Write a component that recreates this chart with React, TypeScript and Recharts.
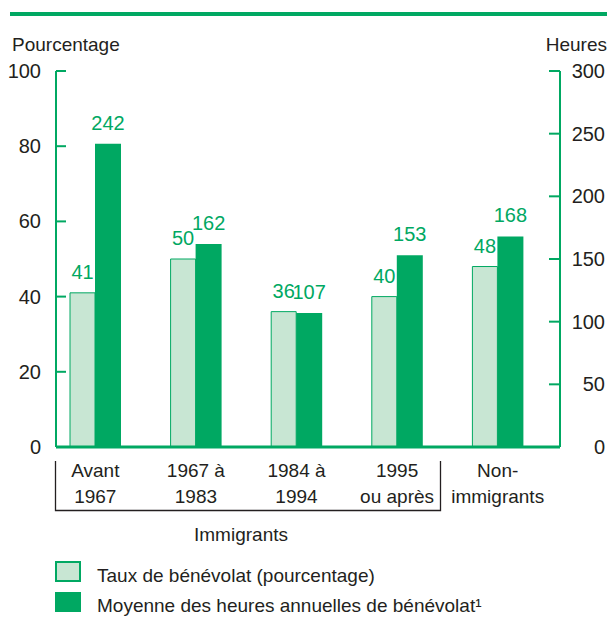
import { BarChart, Bar, XAxis, YAxis, LabelList } from "recharts";

// Bénévolat selon la période d'immigration : taux (axe gauche, %) et
// heures annuelles moyennes (axe droit).

const categories = ["Avant\n1967", "1967 à\n1983", "1984 à\n1994", "1995\nou après", "Non-\nimmigrants"];
const tauxBenevolat = [41, 50, 36, 40, 48];
const heuresAnnuelles = [242, 162, 107, 153, 168];
const pctTicks = [0, 20, 40, 60, 80, 100];
const heuresTicks = [0, 50, 100, 150, 200, 250, 300];
const seriesNames = ["Taux de bénévolat (pourcentage)", "Moyenne des heures annuelles de bénévolat¹"];

const GREEN = "#00a862";
const LIGHT = "#c8e6d3";
const INK = "#231f20";
const FONT = "'Liberation Sans', Arial, sans-serif";

const data = categories.map((cat, i) => ({
  cat,
  taux: tauxBenevolat[i],
  heures: heuresAnnuelles[i],
}));

function LeftTick({ x, y, payload }: any) {
  return (
    <g>
      <line x1={x} x2={x + 10} y1={y} y2={y} stroke={GREEN} strokeWidth={2} />
      <text x={x - 15} y={y} dy={7} textAnchor="end" fill={INK} fontSize={20} fontFamily={FONT}>
        {payload.value}
      </text>
    </g>
  );
}

function RightTick({ x, y, payload }: any) {
  return (
    <g>
      <line x1={x - 11} x2={x} y1={y} y2={y} stroke={GREEN} strokeWidth={2} />
      <text x={x + 45} y={y} dy={7} textAnchor="end" fill={INK} fontSize={20} fontFamily={FONT}>
        {payload.value}
      </text>
    </g>
  );
}

function CatTick({ x, y, payload }: any) {
  const lines = String(payload.value).split("\n");
  return (
    <text textAnchor="middle" fill={INK} fontSize={19} fontFamily={FONT}>
      {lines.map((l, i) => (
        <tspan key={i} x={x} y={y + 30 + i * 25.6}>{l}</tspan>
      ))}
    </text>
  );
}

export default function App() {
  return (
    <div style={{ position: "absolute", left: 0, top: 0, width: 610, height: 618, background: "#fff" }}>
      <BarChart
        width={610}
        height={618}
        data={data}
        margin={{ top: 71, right: 0, bottom: 111, left: 0 }}
        barGap={0}
      >
        <XAxis
          dataKey="cat"
          interval={0}
          height={60}
          padding={{ left: -11, right: 12 }}
          axisLine={{ stroke: GREEN, strokeWidth: 3 }}
          tickLine={false}
          tickSize={0}
          tickMargin={0}
          tick={<CatTick />}
        />
        <YAxis
          yAxisId="pct"
          width={56}
          domain={[0, 100]}
          ticks={pctTicks}
          axisLine={{ stroke: GREEN, strokeWidth: 2 }}
          tickLine={false}
          tickSize={0}
          tickMargin={0}
          tick={<LeftTick />}
        />
        <YAxis
          yAxisId="hrs"
          orientation="right"
          width={50}
          domain={[0, 300]}
          ticks={heuresTicks}
          axisLine={{ stroke: GREEN, strokeWidth: 2 }}
          tickLine={false}
          tickSize={0}
          tickMargin={0}
          tick={<RightTick />}
        />
        <Bar yAxisId="pct" dataKey="taux" name={seriesNames[0]} barSize={25} fill={LIGHT} stroke={GREEN} strokeWidth={1} isAnimationActive={false}>
          <LabelList dataKey="taux" position="top" offset={14} fill={GREEN} fontSize={20} fontFamily={FONT} />
        </Bar>
        <Bar yAxisId="hrs" dataKey="heures" name={seriesNames[1]} barSize={26} fill={GREEN} isAnimationActive={false}>
          <LabelList dataKey="heures" position="top" offset={14} fill={GREEN} fontSize={20} fontFamily={FONT} />
        </Bar>
      </BarChart>

      {/* Décor : filet du haut, titres d'axes, accolade « Immigrants », légende */}
      <svg width={610} height={618} style={{ position: "absolute", left: 0, top: 0, pointerEvents: "none" }} fontFamily={FONT}>
        <rect x={10} y={12} width={597} height={4} fill={GREEN} />
        <text x={12} y={51} fontSize={19} fill={INK}>Pourcentage</text>
        <text x={607} y={51} fontSize={19} fill={INK} textAnchor="end">Heures</text>
        <path d="M55.5 461 V510.5 H440.5 V461" fill="none" stroke={INK} strokeWidth={1.3} />
        <text x={241} y={541} fontSize={19} fill={INK} textAnchor="middle">Immigrants</text>

        <rect x={56} y={562} width={24} height={19} fill={LIGHT} stroke={GREEN} strokeWidth={2} />
        <text x={97} y={582} fontSize={19} fill={INK}>{seriesNames[0]}</text>
        <rect x={55} y={592} width={26} height={20} fill={GREEN} />
        <text x={97} y={612} fontSize={19} fill={INK}>{seriesNames[1]}</text>
      </svg>
    </div>
  );
}
